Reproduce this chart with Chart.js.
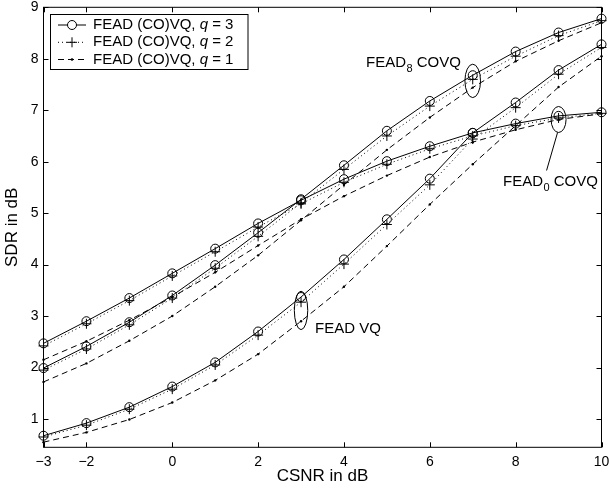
<!DOCTYPE html>
<html><head><meta charset="utf-8">
<script src="https://cdn.jsdelivr.net/npm/chart.js@4/dist/chart.umd.min.js"></script>
<style>html,body{margin:0;padding:0;background:#fff}canvas{display:block}</style>
</head><body>
<canvas id="c" width="609" height="489"></canvas>
<script>
// ---- data ----
const csnr = [-3,-2,-1,0,1,2,3,4,5,6,7,8,9,10];
const fead8_q3 = [1.99,2.41,2.88,3.40,3.99,4.62,5.27,5.93,6.60,7.18,7.68,8.14,8.51,8.78];
const fead8_q2 = [1.95,2.36,2.83,3.35,3.93,4.55,5.20,5.85,6.50,7.08,7.60,8.05,8.45,8.74];
const fead8_q1 = [1.72,2.08,2.52,3.00,3.57,4.18,4.86,5.55,6.23,6.86,7.44,7.95,8.35,8.70];
const fead0_q3 = [2.47,2.90,3.35,3.83,4.31,4.80,5.25,5.66,6.01,6.30,6.56,6.74,6.89,6.96];
const fead0_q2 = [2.42,2.85,3.30,3.78,4.25,4.73,5.18,5.60,5.95,6.25,6.50,6.70,6.85,6.94];
const fead0_q1 = [2.15,2.51,2.92,3.37,3.85,4.37,4.88,5.33,5.73,6.09,6.38,6.62,6.82,6.93];
const vq_q3 = [0.675,0.92,1.23,1.63,2.10,2.70,3.37,4.10,4.88,5.67,6.56,7.15,7.78,8.28];
const vq_q2 = [0.65,0.88,1.19,1.58,2.05,2.63,3.27,4.01,4.78,5.55,6.44,7.05,7.70,8.22];
const vq_q1 = [0.55,0.74,0.99,1.32,1.75,2.26,2.90,3.57,4.36,5.17,5.95,6.70,7.45,8.05];
const xTickValues = [-3,-2,0,2,4,6,8,10];
const yTickValues = [1,2,3,4,5,6,7,8,9];
const legendLabels = ['FEAD (CO)VQ, ', 'FEAD (CO)VQ, ', 'FEAD (CO)VQ, '];
const legendQ = [3,2,1];

const FONT = '"Liberation Sans", Arial, Helvetica, sans-serif';
const pts = ys => csnr.map((x,i)=>({x, y: ys[i]}));

const styleQ3 = {borderColor:'#000', borderWidth:1, pointStyle:'circle', pointRadius:4.5,
  pointBorderColor:'#000', pointBackgroundColor:'rgba(0,0,0,0)', pointBorderWidth:1};
const styleQ2 = {borderColor:'#000', borderWidth:1, borderDash:[1,3], pointStyle:'cross', pointRadius:5,
  pointBorderColor:'#000', pointBorderWidth:1};
const styleQ1 = {borderColor:'#000', borderWidth:1, borderDash:[6,4], pointStyle:'circle', pointRadius:1.2,
  pointBorderColor:'#000', pointBackgroundColor:'#000', pointBorderWidth:0};

const datasets = [
  Object.assign({label:'FEAD8 q=1', data:pts(fead8_q1)}, styleQ1),
  Object.assign({label:'FEAD0 q=1', data:pts(fead0_q1)}, styleQ1),
  Object.assign({label:'VQ q=1', data:pts(vq_q1)}, styleQ1),
  Object.assign({label:'FEAD8 q=2', data:pts(fead8_q2)}, styleQ2),
  Object.assign({label:'FEAD0 q=2', data:pts(fead0_q2)}, styleQ2),
  Object.assign({label:'VQ q=2', data:pts(vq_q2)}, styleQ2),
  Object.assign({label:'FEAD8 q=3', data:pts(fead8_q3)}, styleQ3),
  Object.assign({label:'FEAD0 q=3', data:pts(fead0_q3)}, styleQ3),
  Object.assign({label:'VQ q=3', data:pts(vq_q3)}, styleQ3),
].map(d => Object.assign(d, {tension:0, fill:false, clip:10, pointHoverRadius:d.pointRadius}));

// annotations in data coordinates
const ellipses = [
  {x:7, y:7.57, rx:7.8, ry:16.7},
  {x:9, y:6.82, rx:7.5, ry:13},
  {x:3, y:3.11, rx:6.7, ry:19.2},
];

const framePlugin = {
  id:'frame',
  afterDraw(chart){
    const {ctx, chartArea:a, scales:{x, y}} = chart;
    ctx.save();
    ctx.strokeStyle = '#000'; ctx.lineWidth = 1; ctx.setLineDash([]);
    ctx.strokeRect(a.left, a.top, a.right-a.left, a.bottom-a.top);
    const L = 5;
    ctx.beginPath();
    xTickValues.forEach(v => {
      const px = Math.round(x.getPixelForValue(v)) + 0.5;
      ctx.moveTo(px, a.bottom); ctx.lineTo(px, a.bottom - L);
      ctx.moveTo(px, a.top); ctx.lineTo(px, a.top + L);
    });
    yTickValues.forEach(v => {
      const py = Math.round(y.getPixelForValue(v)) + 0.5;
      ctx.moveTo(a.left, py); ctx.lineTo(a.left + L, py);
      ctx.moveTo(a.right, py); ctx.lineTo(a.right - L, py);
    });
    ctx.stroke();

    // ellipses
    ellipses.forEach(e => {
      ctx.beginPath();
      ctx.ellipse(x.getPixelForValue(e.x), y.getPixelForValue(e.y), e.rx, e.ry, 0, 0, Math.PI*2);
      ctx.stroke();
    });
    // leader line for FEAD0
    const e0 = ellipses[1];
    const cx0 = x.getPixelForValue(e0.x), cy0 = y.getPixelForValue(e0.y);
    ctx.beginPath();
    ctx.moveTo(cx0 - 1, cy0 + e0.ry);
    ctx.lineTo(cx0 - 12, cy0 + 51);
    ctx.stroke();

    // annotation texts
    ctx.fillStyle = '#000';
    ctx.textBaseline = 'alphabetic'; ctx.textAlign = 'left';
    function subLabel(x0, base, sub){
      ctx.font = '15px ' + FONT;
      ctx.fillText('FEAD', x0, base);
      let w = ctx.measureText('FEAD').width;
      ctx.font = '11px ' + FONT;
      ctx.fillText(sub, x0 + w + 0.5, base + 5);
      let w2 = ctx.measureText(sub).width;
      ctx.font = '15px ' + FONT;
      ctx.fillText(' COVQ', x0 + w + w2 + 0.5, base);
    }
    subLabel(366, 67, '8');
    subLabel(503, 186, '0');
    ctx.font = '15px ' + FONT;
    ctx.fillText('FEAD VQ', 315, 333);

    // legend
    const lx = 50.5, ly = 14.5, lw = 197.5, lh = 55;
    ctx.fillStyle = '#fff';
    ctx.fillRect(lx, ly, lw, lh);
    ctx.strokeRect(lx, ly, lw, lh);
    const rows = [25, 42.3, 59.5];
    rows.forEach((ry, i) => {
      const q = legendQ[i];
      ctx.strokeStyle = '#000'; ctx.fillStyle = '#000'; ctx.lineWidth = 1;
      if (q === 3) {
        ctx.setLineDash([]);
        ctx.beginPath(); ctx.moveTo(58, ry); ctx.lineTo(86, ry); ctx.stroke();
        ctx.beginPath(); ctx.arc(72, ry, 4.5, 0, Math.PI*2); ctx.fillStyle='#fff'; ctx.fill(); ctx.stroke();
      } else if (q === 2) {
        ctx.setLineDash([1,3]);
        ctx.beginPath(); ctx.moveTo(58, ry); ctx.lineTo(86, ry); ctx.stroke();
        ctx.setLineDash([]);
        ctx.beginPath(); ctx.moveTo(67, ry); ctx.lineTo(77, ry); ctx.moveTo(72, ry-5); ctx.lineTo(72, ry+5); ctx.stroke();
      } else {
        ctx.setLineDash([6,4]);
        ctx.beginPath(); ctx.moveTo(58, ry); ctx.lineTo(86, ry); ctx.stroke();
        ctx.setLineDash([]);
        ctx.beginPath(); ctx.arc(72, ry, 1.3, 0, Math.PI*2); ctx.fill();
      }
      ctx.fillStyle = '#000';
      ctx.textBaseline = 'middle';
      let tx = 93;
      ctx.font = '15px ' + FONT;
      ctx.fillText(legendLabels[i], tx, ry);
      tx += ctx.measureText(legendLabels[i]).width;
      ctx.font = 'italic 15px ' + FONT;
      ctx.fillText('q', tx, ry);
      tx += ctx.measureText('q').width;
      ctx.font = '15px ' + FONT;
      ctx.fillText(' = ' + q, tx, ry);
    });
    ctx.restore();
  }
};

new Chart(document.getElementById('c'), {
  type:'line',
  data:{datasets},
  options:{
    responsive:false, animation:false, devicePixelRatio:1,
    layout:{padding:{left:2, right:7.5, top:7.3, bottom:2.3}},
    plugins:{legend:{display:false}, tooltip:{enabled:false}},
    elements:{line:{borderJoinStyle:'miter'}},
    scales:{
      x:{type:'linear', min:-3, max:10,
        afterBuildTicks: s => { s.ticks = xTickValues.map(v=>({value:v})); },
        afterFit: s => { s.height = 39.4; s.paddingLeft = 0; s.paddingRight = 0; },
        grid:{display:false, drawTicks:false}, border:{display:false},
        ticks:{autoSkip:false, maxRotation:0, padding:6, color:'#000', font:{family:FONT, size:14},
          callback: v => v < 0 ? '\u2212' + Math.abs(v) : String(v)},
        title:{display:true, text:'CSNR in dB', color:'#000', font:{family:FONT, size:17}, padding:0}
      },
      y:{type:'linear', min:0.45, max:9,
        afterBuildTicks: s => { s.ticks = yTickValues.map(v=>({value:v})); },
        afterFit: s => { s.width = 41.5; s.paddingTop = 0; s.paddingBottom = 0; },
        grid:{display:false, drawTicks:false}, border:{display:false},
        ticks:{autoSkip:false, padding:5, color:'#000', font:{family:FONT, size:14}},
        title:{display:true, text:'SDR in dB', color:'#000', font:{family:FONT, size:17}, padding:0}
      }
    }
  },
  plugins:[framePlugin]
});
</script>
</body></html>
